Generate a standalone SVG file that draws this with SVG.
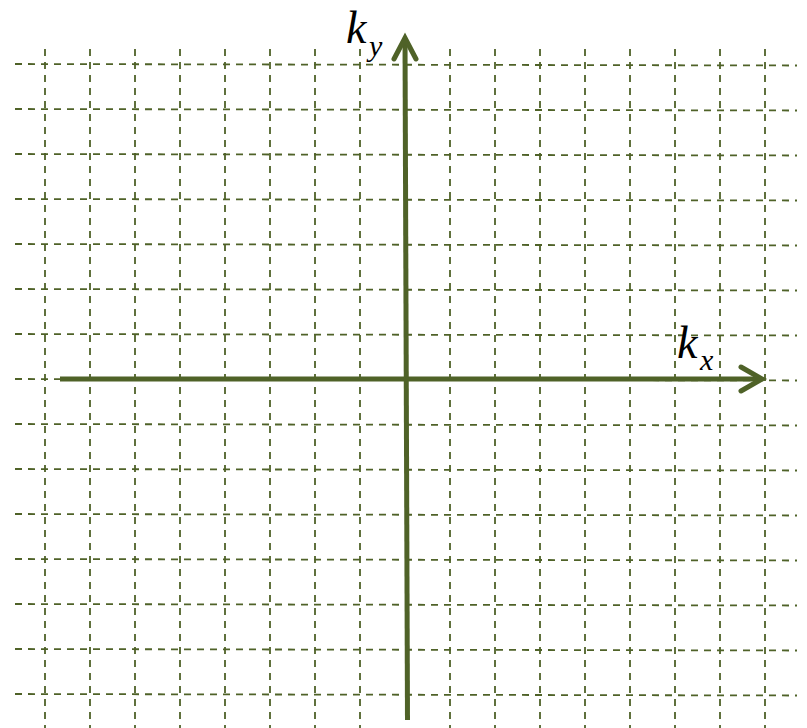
<svg xmlns="http://www.w3.org/2000/svg" width="807" height="728" viewBox="0 0 807 728">
<style>
.grid line{stroke:#4f6228;stroke-width:1.8;stroke-dasharray:7 6;fill:none}
.axis{stroke:#4f6228;stroke-width:5;fill:none;stroke-linecap:butt}
.head{stroke:#4f6228;stroke-width:5;fill:none;stroke-linecap:round;stroke-linejoin:miter}
.lbl{font-family:"Liberation Serif","Times New Roman",serif;font-style:italic;fill:#000}
</style>
<rect width="807" height="728" fill="#fff"/>
<g id="grid" class="grid">
<line x1="15" y1="64" x2="797" y2="65.5"/>
<line x1="15" y1="109" x2="797" y2="110.5"/>
<line x1="15" y1="154" x2="797" y2="155.5"/>
<line x1="15" y1="199" x2="797" y2="200.5"/>
<line x1="15" y1="244" x2="797" y2="245.5"/>
<line x1="15" y1="289" x2="797" y2="290.5"/>
<line x1="15" y1="334" x2="797" y2="335.5"/>
<line x1="15" y1="379" x2="797" y2="380.5"/>
<line x1="15" y1="424" x2="797" y2="425.5"/>
<line x1="15" y1="469" x2="797" y2="470.5"/>
<line x1="15" y1="514" x2="797" y2="515.5"/>
<line x1="15" y1="559" x2="797" y2="560.5"/>
<line x1="15" y1="604" x2="797" y2="605.5"/>
<line x1="15" y1="649" x2="797" y2="650.5"/>
<line x1="15" y1="694" x2="797" y2="695.5"/>
<line x1="45" y1="49" x2="45" y2="728"/>
<line x1="90" y1="49" x2="90" y2="728"/>
<line x1="135" y1="49" x2="135" y2="728"/>
<line x1="180" y1="49" x2="180" y2="728"/>
<line x1="225" y1="49" x2="225" y2="728"/>
<line x1="270" y1="49" x2="270" y2="728"/>
<line x1="315" y1="49" x2="315" y2="728"/>
<line x1="360" y1="49" x2="360" y2="728"/>
<line x1="450" y1="49" x2="450" y2="728"/>
<line x1="495" y1="49" x2="495" y2="728"/>
<line x1="540" y1="49" x2="540" y2="728"/>
<line x1="585" y1="49" x2="585" y2="728"/>
<line x1="630" y1="49" x2="630" y2="728"/>
<line x1="675" y1="49" x2="675" y2="728"/>
<line x1="720" y1="49" x2="720" y2="728"/>
<line x1="765" y1="49" x2="765" y2="728"/>
</g>
<g id="connectors">
<line class="axis" x1="60" y1="379" x2="762" y2="379"/>
<polyline class="head" points="741,367 762,379 741,391"/>
<line class="axis" x1="407.5" y1="720" x2="405" y2="38"/>
<polyline class="head" points="394,59 405,38 416,59"/>
</g>
<g id="label-ky">
<text class="lbl" x="346" y="43" font-size="46">k</text>
<text class="lbl" x="369" y="56" font-size="30">y</text>
</g>
<g id="label-kx">
<text class="lbl" x="677" y="358" font-size="46">k</text>
<text class="lbl" x="700" y="370" font-size="30">x</text>
</g>
</svg>
